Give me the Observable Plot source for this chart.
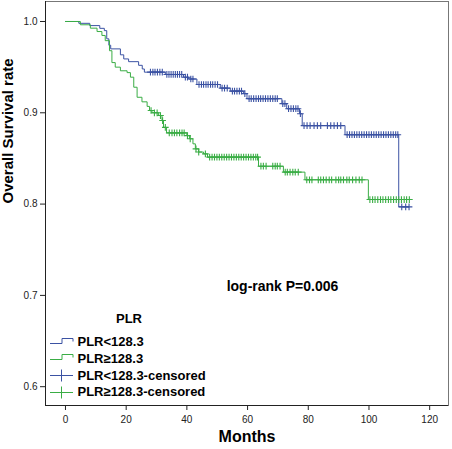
<!DOCTYPE html>
<html>
<head>
<meta charset="utf-8">
<script src="https://cdn.jsdelivr.net/npm/d3@7"></script>
<script src="https://cdn.jsdelivr.net/npm/@observablehq/plot@0.6"></script>
<style>
  html, body { margin: 0; padding: 0; background: #fff; }
  #chart svg { display: block; }
</style>
</head>
<body>
<div id="chart"></div>
<script>
// ---- data ----
const groups = ["PLR<128.3", "PLR≥128.3"];
const colors = ["#3b52a3", "#3aad45"];

// PLR<128.3 : event times (months) and survival after the event
const lowTimes = [0, 4.4, 8.0, 11.3, 12.8, 13.6, 14.3, 14.9, 18.1, 19.2, 20.8, 24.1, 25.3, 26.0, 32.9, 38.9, 40.6, 43.3, 51.0, 54.3, 58.7, 59.8, 71.3, 72.9, 77.1, 78.0, 92.1, 109.8];
const lowSurv  = [1.0, 0.998, 0.9955, 0.9925, 0.990, 0.981, 0.974, 0.970, 0.9635, 0.959, 0.956, 0.952, 0.948, 0.9445, 0.942, 0.939, 0.937, 0.931, 0.927, 0.9237, 0.921, 0.9155, 0.910, 0.9045, 0.899, 0.886, 0.876, 0.797];
const lowCensor = [28.0, 28.8, 29.5, 30.3, 31.1, 31.9, 33.4, 34.1, 34.8, 35.5, 36.2, 36.9, 37.6, 38.3, 39.5, 40.2, 41.3, 42.0, 44.0, 44.8, 45.5, 46.3, 47.0, 47.8, 48.5, 49.3, 50.1, 51.6, 52.4, 53.3, 55.0, 55.7, 56.5, 57.3, 58.0, 59.1, 60.5, 61.2, 62.0, 62.8, 63.6, 64.3, 65.1, 65.9, 66.7, 67.5, 68.3, 69.1, 69.8, 71.6, 72.3, 73.5, 74.3, 75.1, 75.9, 76.6, 77.4, 78.6, 79.6, 80.6, 81.9, 83.0, 84.1, 86.3, 87.4, 88.5, 89.6, 90.7, 92.8, 93.6, 94.4, 95.2, 96.0, 96.8, 97.6, 98.4, 99.2, 100.0, 100.8, 101.6, 102.4, 103.2, 104.0, 104.8, 105.6, 106.4, 107.2, 108.0, 108.8, 109.5, 110.8, 112.1, 113.2];

// PLR≥128.3
const highTimes = [0, 4.9, 8.2, 10.4, 12.0, 13.1, 14.5, 15.3, 16.4, 18.1, 20.3, 21.4, 22.5, 23.6, 25.2, 26.9, 27.7, 28.5, 30.7, 31.8, 32.3, 33.3, 40.0, 40.9, 42.0, 42.8, 43.9, 45.5, 46.8, 63.6, 71.8, 78.9, 99.8];
const highSurv  = [1.0, 0.9964, 0.9927, 0.989, 0.9847, 0.979, 0.968, 0.955, 0.950, 0.946, 0.944, 0.939, 0.928, 0.917, 0.912, 0.907, 0.9025, 0.900, 0.897, 0.8915, 0.884, 0.878, 0.875, 0.8715, 0.866, 0.8605, 0.857, 0.855, 0.8514, 0.8415, 0.835, 0.8266, 0.805];
const highCensor = [28.2, 29.3, 30.2, 31.3, 32.0, 32.9, 34.2, 35.1, 35.9, 36.7, 37.6, 38.4, 39.1, 40.2, 41.1, 43.0, 43.9, 46.1, 47.5, 48.3, 49.1, 49.9, 50.7, 51.5, 52.3, 53.1, 53.9, 54.7, 55.5, 56.3, 57.1, 57.9, 58.7, 59.5, 60.3, 61.1, 61.9, 62.7, 63.3, 64.4, 65.2, 66.1, 68.3, 69.1, 69.8, 70.7, 72.4, 73.1, 74.0, 74.9, 75.7, 76.7, 79.5, 80.4, 81.2, 83.3, 84.1, 85.0, 85.9, 86.9, 87.7, 89.1, 90.0, 90.7, 91.6, 92.7, 93.5, 94.6, 95.7, 96.8, 97.7, 100.3, 101.2, 102.0, 102.9, 103.8, 104.6, 105.5, 106.4, 107.2, 108.1, 109.0, 109.8, 110.7, 111.6, 112.4, 113.3];

const xTicks = [0, 20, 40, 60, 80, 100, 120];
const yTicks = [0.6, 0.7, 0.8, 0.9, 1.0];
const xTitle = "Months";
const yTitle = "Overall Survival rate";
const annotation = "log-rank P=0.006";
const legendTitle = "PLR";
const legendLabels = ["PLR<128.3", "PLR≥128.3", "PLR<128.3-censored", "PLR≥128.3-censored"];

// ---- build tables ----
function survAt(times, surv, t) {
  let s = surv[0];
  for (let i = 0; i < times.length; i++) if (times[i] <= t) s = surv[i];
  return s;
}
function buildLine(g, times, surv, cens) {
  const rows = times.map((t, i) => ({g, t, s: surv[i]}));
  const end = Math.max(times[times.length - 1], d3.max(cens));
  rows.push({g, t: end, s: surv[surv.length - 1]});
  return rows;
}
function buildCens(g, times, surv, cens) {
  return cens.map(t => ({g, t, s: survAt(times, surv, t)}));
}
const lineData = [
  ...buildLine(groups[0], lowTimes, lowSurv, lowCensor),
  ...buildLine(groups[1], highTimes, highSurv, highCensor)
];
const censData = [
  ...buildCens(groups[0], lowTimes, lowSurv, lowCensor),
  ...buildCens(groups[1], highTimes, highSurv, highCensor)
];

const xDomain = [-6.58, 126.2];
const yDomain = [0.5794, 1.0219];

const chart = Plot.plot({
  width: 452,
  height: 449,
  marginLeft: 45,
  marginRight: 4,
  marginTop: 1,
  marginBottom: 44,
  style: {fontFamily: "Arial, 'Liberation Sans', sans-serif", fontSize: "10px", color: "#222", background: "#fff", overflow: "visible"},
  x: {domain: xDomain, ticks: xTicks, tickSize: 5, tickPadding: 5, label: null},
  y: {domain: yDomain, ticks: yTicks, tickFormat: d3.format(".1f"), tickSize: 5, tickPadding: 3, label: null},
  color: {domain: groups, range: colors},
  marks: [
    Plot.frame({stroke: "#777"}),
    Plot.ruleX([xDomain[0]], {stroke: "#222"}),
    Plot.ruleY([yDomain[0]], {stroke: "#222"}),
    Plot.line(lineData, {x: "t", y: "s", z: "g", stroke: "g", curve: "step-after", strokeWidth: 1}),
    Plot.dot(censData, {x: "t", y: "s", stroke: "g", symbol: "plus", r: 2.3, strokeWidth: 1.1}),
    Plot.text([annotation], {x: 71.5, y: 0.71, text: d => d, fontWeight: "bold", fontSize: 14, fill: "#000"}),
    Plot.text([xTitle], {frameAnchor: "bottom", dy: 36.5, lineAnchor: "bottom", text: d => d, fontWeight: "bold", fontSize: 16, fill: "#000"}),
    Plot.text([yTitle], {frameAnchor: "left", dx: -37, rotate: -90, text: d => d, fontWeight: "bold", fontSize: 15, fill: "#000"})
  ]
});

// ---- legend ----
const svg = d3.select(chart);
const lg = svg.append("g").attr("font-family", "Arial, 'Liberation Sans', sans-serif").attr("font-weight", "bold").attr("font-size", 13).attr("text-anchor", "start");
lg.append("text").attr("x", 129).attr("y", 322.5).attr("text-anchor", "middle").attr("fill", "#000").text(legendTitle);
const rowsY = [341.7, 358.3, 375, 391.7];
legendLabels.forEach((lab, i) => {
  const cy = Math.round(rowsY[i]) + 0.5;
  const col = colors[i % 2];
  if (i < 2) {
    lg.append("path").attr("d", `M50,${cy + 1}H62V${cy - 4}H73V${cy - 1}`).attr("fill", "none").attr("stroke", col).attr("stroke-width", 1);
  } else {
    lg.append("path").attr("d", `M50,${cy}H73M61.5,${cy - 6}V${cy + 6}`).attr("fill", "none").attr("stroke", col).attr("stroke-width", 1);
  }
  lg.append("text").attr("x", 77.5).attr("y", rowsY[i] + 4.6).attr("text-anchor", "start").attr("fill", "#000").text(lab);
});

document.getElementById("chart").appendChild(chart);
</script>
</body>
</html>
